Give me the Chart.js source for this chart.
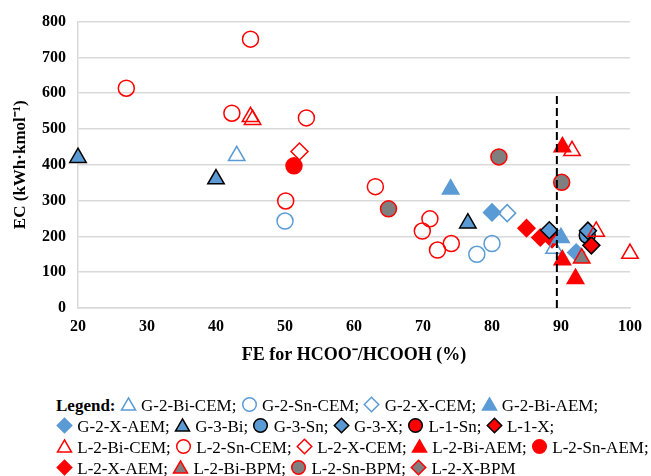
<!DOCTYPE html>
<html>
<head>
<meta charset="utf-8">
<script src="https://cdn.jsdelivr.net/npm/chart.js@4.4.1/dist/chart.umd.min.js"></script>
<style>
	body { margin: 0; background: #fff; }
	#wrap { position: relative; width: 651px; height: 476px; overflow: hidden; }
	#chartBox { position: absolute; left: 0; top: 0; width: 651px; height: 372px; }
	#legend {
		position: absolute; left: 56px; top: 395px;
		font: 17px 'Liberation Serif', 'Times New Roman', serif;
		line-height: 21px; color: #000; white-space: nowrap;
	}
	#legend canvas { vertical-align: -2px; }
</style>
</head>
<body>
<div id="wrap">
	<div id="chartBox"><canvas id="ecChart"></canvas></div>
	<div id="legend"></div>
</div>
<script>
// [FE %, EC kWh/kmol]
const seriesNames = [
	'G-2-Bi-CEM', 'G-2-Sn-CEM', 'G-2-X-CEM', 'G-2-Bi-AEM',
	'G-2-X-AEM', 'G-3-Bi', 'G-3-Sn', 'G-3-X', 'L-1-Sn', 'L-1-X',
	'L-2-Bi-CEM', 'L-2-Sn-CEM', 'L-2-X-CEM', 'L-2-Bi-AEM', 'L-2-Sn-AEM',
	'L-2-X-AEM', 'L-2-Bi-BPM', 'L-2-Sn-BPM', 'L-2-X-BPM',
];
const g2BiCem = [[43, 425], [89, 166]];
const g2SnCem = [[50, 243], [77.8, 150], [80, 180]];
const g2XCem = [[82.2, 265]];
const g2BiAem = [[74, 332], [90, 196]];
const g2XAem = [[80, 267], [92.2, 155]];
const g3Bi = [[20, 420], [40, 360], [76.5, 237]];
const g3Sn = [[93.8, 203]];
const g3X = [[88.3, 217], [93.9, 216]];
const l1Sn = [];
const l1X = [[94.4, 175]];
const l2BiCem = [[45, 534], [45.3, 526], [91.6, 439], [95.1, 214], [100, 152]];
const l2SnCem = [
	[27, 614], [42.3, 544], [45, 751], [53.1, 531], [50.1, 299],
	[63.1, 339], [69.9, 215], [71, 249], [72.1, 162], [74.1, 180],
];
const l2XCem = [[52.1, 437]];
const l2BiAem = [[90.2, 450], [90.2, 134], [92.1, 82]];
const l2SnAem = [[51.3, 397]];
const l2XAem = [[85, 223], [87, 197], [88.7, 192]];
const l2BiBpm = [[93, 139]];
const l2SnBpm = [[65, 277], [81, 422], [90.1, 351]];
const l2XBpm = [];

const seriesData = [
	g2BiCem, g2SnCem, g2XCem, g2BiAem, g2XAem, g3Bi, g3Sn, g3X, l1Sn, l1X,
	l2BiCem, l2SnCem, l2XCem, l2BiAem, l2SnAem, l2XAem, l2BiBpm, l2SnBpm, l2XBpm,
];

const limitFe = 89.4;
const limitEc = [0, 600];

const xTicks = { min: 20, max: 100, step: 10 };
const yTicks = { min: 0, max: 800, step: 100 };

// marker look: shape, fill, border
const BLUE = '#5b9bd5', RED = '#ff0000', GREY = '#7f7f7f', BLACK = '#000000', NONE = 'rgba(0,0,0,0)';
const markerStyles = [
	['triangle', NONE, BLUE], ['circle', NONE, BLUE], ['rectRot', NONE, BLUE], ['triangle', BLUE, BLUE],
	['rectRot', BLUE, BLUE], ['triangle', BLUE, BLACK], ['circle', BLUE, BLACK], ['rectRot', BLUE, BLACK],
	['circle', RED, BLACK], ['rectRot', RED, BLACK],
	['triangle', NONE, RED], ['circle', NONE, RED], ['rectRot', NONE, RED], ['triangle', RED, RED],
	['circle', RED, RED], ['rectRot', RED, RED],
	['triangle', GREY, RED], ['circle', GREY, RED], ['rectRot', GREY, RED],
];
const sizeFor = { circle: 8, triangle: 9.5, rectRot: 8.5 };
const legendRows = [4, 6, 5, 4];

const serif = "'Liberation Serif', 'Times New Roman', serif";

const datasets = seriesNames.map((name, i) => {
	const [shape, fill, stroke] = markerStyles[i];
	return {
		label: name,
		data: seriesData[i].map(([x, y]) => ({ x, y })),
		pointStyle: shape,
		pointRadius: sizeFor[shape],
		pointBackgroundColor: fill,
		pointBorderColor: stroke,
		pointBorderWidth: 1.5,
		showLine: false,
		clip: false,
		// later series on top, L-2-X-AEM sits under the G points
		order: name === 'L-2-X-AEM' ? 1 : -i,
	};
});

datasets.push({
	label: 'limit',
	data: limitEc.map((y) => ({ x: limitFe, y })),
	showLine: true,
	borderColor: '#000',
	borderWidth: 2,
	borderDash: [8, 4],
	pointRadius: 0,
	order: -100,
});

new Chart(document.getElementById('ecChart'), {
	type: 'scatter',
	data: { datasets },
	options: {
		responsive: true,
		maintainAspectRatio: false,
		animation: false,
		layout: { padding: { top: 21, right: 17, left: 0, bottom: 0 } },
		plugins: {
			legend: { display: false },
			tooltip: { enabled: false },
		},
		scales: {
			x: {
				type: 'linear',
				min: xTicks.min,
				max: xTicks.max,
				ticks: {
					stepSize: xTicks.step,
					color: '#000',
					padding: 9,
					font: { family: serif, size: 16, weight: 'bold' },
				},
				grid: { display: false, drawTicks: false },
				border: { display: true, color: '#d9d9d9', width: 1.5 },
				title: {
					display: true,
					text: 'FE for HCOO⁻/HCOOH (%)',
					color: '#000',
					font: { family: serif, size: 18, weight: 'bold' },
					padding: { top: 0, bottom: 6 },
				},
				afterFit(scale) {
					scale.height = 64;
				},
			},
			y: {
				min: yTicks.min,
				max: yTicks.max,
				ticks: {
					stepSize: yTicks.step,
					color: '#000',
					padding: 12,
					font: { family: serif, size: 16, weight: 'bold' },
				},
				grid: { color: '#d9d9d9', lineWidth: 1.5, drawTicks: false },
				border: { display: true, color: '#d9d9d9', width: 1.5 },
				title: {
					display: true,
					text: 'EC (kWh·kmol⁻¹)',
					color: '#000',
					font: { family: serif, size: 17, weight: 'bold' },
					padding: { top: 10, bottom: 0 },
				},
				afterFit(scale) {
					scale.width = 78;
				},
			},
		},
	},
});

// html legend, rows as in the figure
const legendEl = document.getElementById('legend');
let idx = 0;
legendRows.forEach((count, r) => {
	const row = document.createElement('div');
	if (r === 0) {
		const b = document.createElement('b');
		b.textContent = 'Legend: ';
		row.appendChild(b);
	}
	for (let k = 0; k < count; k++, idx++) {
		const [shape, fill, stroke] = markerStyles[idx];
		const c = document.createElement('canvas');
		c.width = 17;
		c.height = 17;
		const cx = c.getContext('2d');
		cx.fillStyle = fill;
		cx.strokeStyle = stroke;
		cx.lineWidth = 1.5;
		Chart.helpers.drawPoint(cx, {
			pointStyle: shape,
			radius: sizeFor[shape] * 0.85,
			borderWidth: 1.5,
			rotation: 0,
		}, 8.5, shape === 'triangle' ? 10 : 8.5);
		row.appendChild(c);
		const last = idx === seriesNames.length - 1;
		row.appendChild(document.createTextNode(' ' + seriesNames[idx] + (last ? '' : '; ')));
	}
	legendEl.appendChild(row);
});
</script>
</body>
</html>
